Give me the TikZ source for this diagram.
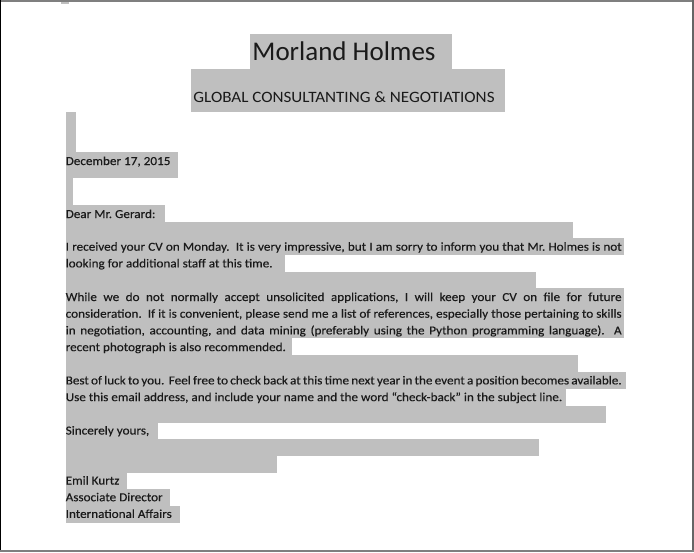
\documentclass[tikz,border=0pt]{standalone}
\usepackage{fontspec}
\setmainfont{Carlito}
\newfontfamily\bodyfont[FakeStretch=1.08,FakeBold=0.3]{Carlito}
\newfontfamily\subfont[FakeStretch=1.08]{Carlito}
\definecolor{hlgray}{HTML}{BFBFBF}
\definecolor{framegray}{HTML}{7F7F7F}
\definecolor{inkc}{HTML}{1A1A1A}
\tikzset{
  hl/.style={fill=hlgray, draw=none},
  bodytxt/.style={anchor=base west, inner sep=0pt, text=inkc, font=\bodyfont\fontsize{12.2}{14}\selectfont\frenchspacing},
  titletxt/.style={anchor=base, inner sep=0pt, text=inkc, font=\fontsize{27}{30}\selectfont},
  subtxt/.style={anchor=base, inner sep=0pt, text=inkc, font=\subfont\fontsize{15.8}{18}\selectfont},
}
\newcommand{\jline}[1]{\makebox[556pt][s]{#1}}
\newcommand{\jlinetight}[1]{\makebox[556pt][s]{\spaceskip=2pt plus 2pt minus 0.5pt #1}}
\begin{document}
\begin{tikzpicture}[x=1pt,y=-1pt]
\useasboundingbox (0,0) rectangle (694,552);
\fill[white] (0,0) rectangle (694,552);
% frame
\fill[framegray] (0,0) rectangle (694,2);
\fill[black] (0,0) rectangle (1.3,552);
\fill[framegray!80!black] (692.3,0) rectangle (694,552);
\fill[framegray] (0,549.5) rectangle (694,552);
\fill[gray!50] (61,2) rectangle (69,3.5);
% highlight boxes
\fill[hl] (250,34) rectangle (452,69);
\fill[hl] (191,69) rectangle (505,112);
\fill[hl] (65.5,112) rectangle (76,153);
\fill[hl] (65.5,152) rectangle (178,178);
\fill[hl] (65.5,178) rectangle (73,205);
\fill[hl] (65.5,205) rectangle (164.5,222);
\fill[hl] (65.5,222) rectangle (573,238.2);
\fill[hl] (65.5,238) rectangle (624,255.2);
\fill[hl] (65.5,255) rectangle (285,272.2);
\fill[hl] (65.5,272) rectangle (536,288.2);
\fill[hl] (65.5,288) rectangle (624,338.2);
\fill[hl] (65.5,338) rectangle (292,355.2);
\fill[hl] (65.5,355) rectangle (577.5,372.2);
\fill[hl] (65.5,372) rectangle (626,389.2);
\fill[hl] (65.5,389) rectangle (566,406.2);
\fill[hl] (65.5,406) rectangle (606,423.2);
\fill[hl] (65.5,423) rectangle (158,439.2);
\fill[hl] (65.5,439) rectangle (539,456.2);
\fill[hl] (65.5,456) rectangle (276.5,473.2);
\fill[hl] (65.5,473) rectangle (127,489.2);
\fill[hl] (65.5,489) rectangle (170,506.2);
\fill[hl] (65.5,506) rectangle (180,523);
% texts
\node[titletxt] (title) at (344,60.7) {Morland Holmes};
\node[subtxt] (sub) at (344,102.7) {GLOBAL CONSULTANTING \& NEGOTIATIONS};
\node[bodytxt] (date) at (65.5,165) {December 17, 2015};
\node[bodytxt] (dear) at (65.5,218) {Dear Mr. Gerard:};
\node[bodytxt] (p1a) at (65.5,250.7) {\jline{I received your CV on Monday.\ \ It is very impressive, but I am sorry to inform you that Mr. Holmes is not}};
\node[bodytxt] (p1b) at (65.5,267.4) {looking for additional staff at this time.};
\node[bodytxt] (p2a) at (65.5,301) {\jline{While we do not normally accept unsolicited applications, I will keep your CV on file for future}};
\node[bodytxt] (p2b) at (65.5,317.7) {\jline{consideration.\ \ If it is convenient, please send me a list of references, especially those pertaining to skills}};
\node[bodytxt] (p2c) at (65.5,334.4) {\jline{in negotiation, accounting, and data mining (preferably using the Python programming language).\ \ A}};
\node[bodytxt] (p2d) at (65.5,351.1) {recent photograph is also recommended.};
\node[bodytxt] (p3a) at (65.5,384.4) {\jlinetight{Best of luck to you.\ \ Feel free to check back at this time next year in the event a position becomes available.}};
\node[bodytxt] (p3b) at (65.5,401.1) {Use this email address, and include your name and the word “check-back” in the subject line.};
\node[bodytxt] (sinc) at (65.5,434.5) {Sincerely yours,};
\node[bodytxt] (name) at (65.5,484.5) {Emil Kurtz};
\node[bodytxt] (role) at (65.5,501.2) {Associate Director};
\node[bodytxt] (dept) at (65.5,517.9) {International Affairs};
\end{tikzpicture}
\end{document}
